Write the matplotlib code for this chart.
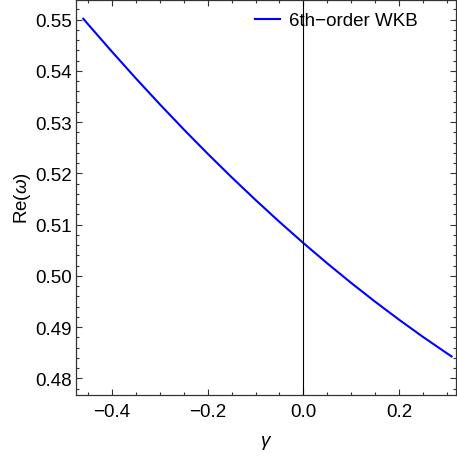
import matplotlib
matplotlib.use('Agg')
import matplotlib.pyplot as plt
from matplotlib.ticker import MultipleLocator, FuncFormatter, FormatStrFormatter

plt.rcParams['font.family'] = ['Liberation Sans', 'DejaVu Sans']
plt.rcParams['mathtext.fontset'] = 'custom'
plt.rcParams['mathtext.it'] = 'Liberation Sans:italic'
plt.rcParams['mathtext.rm'] = 'Liberation Sans'

# real part of the quasinormal frequency vs gamma (6th-order WKB)
gamma = [-0.46, -0.45, -0.40, -0.35, -0.30, -0.25, -0.20, -0.15, -0.10, -0.05,
         0.00, 0.05, 0.10, 0.15, 0.20, 0.25, 0.30, 0.31]
re_omega = [0.55019, 0.54909, 0.54374, 0.53853, 0.53348, 0.52858, 0.52384, 0.51925,
            0.51482, 0.51054, 0.50641, 0.50244, 0.49862, 0.49496, 0.49145, 0.48809,
            0.48489, 0.48427]

W, H = 457, 460
fig = plt.figure(figsize=(W / 100, H / 100), dpi=100)
ax = fig.add_axes([76 / W, (H - 396) / H, 380 / W, 395 / H])

ax.plot(gamma, re_omega, color='#0000ff', lw=1.5, label='6th\u2212order WKB')
ax.axvline(0, color='black', lw=0.8)

ax.set_xlim(-0.4753, 0.3192)
ax.set_ylim(0.47674, 0.55384)

ax.xaxis.set_major_locator(MultipleLocator(0.2))
ax.xaxis.set_minor_locator(MultipleLocator(0.05))
ax.yaxis.set_major_locator(MultipleLocator(0.01))
ax.yaxis.set_minor_locator(MultipleLocator(0.002))
ax.xaxis.set_major_formatter(FuncFormatter(
    lambda v, p: ('%.1f' % v).replace('-', '\u2212') if abs(v) > 1e-9 else '0.0'))
ax.yaxis.set_major_formatter(FormatStrFormatter('%.2f'))

fc = '#333333'
for s in ax.spines.values():
    s.set_color(fc)
    s.set_linewidth(0.9)
ax.tick_params(which='both', direction='in', top=True, right=True, color=fc,
               labelsize=13.5, labelcolor='black', width=0.8)
ax.tick_params(which='major', length=4)
ax.tick_params(which='minor', length=2.2)
ax.tick_params(axis='x', which='major', pad=6)
ax.tick_params(axis='y', which='major', pad=3)
ax.tick_params(axis='both', which='both', labelright=False, labeltop=False)

ax.set_xlabel(r'$\gamma$', fontsize=13.5, labelpad=9)
ax.set_ylabel(r'Re($\omega$)', fontsize=13.5, labelpad=1.5)

ax.legend(loc='upper left', bbox_to_anchor=(255 / W, (H - 13) / H), bbox_transform=fig.transFigure,
          frameon=False, fontsize=13.5, handlelength=1.35, handletextpad=0.48,
          borderaxespad=0, borderpad=0)

fig.savefig('out.png', dpi=100)
